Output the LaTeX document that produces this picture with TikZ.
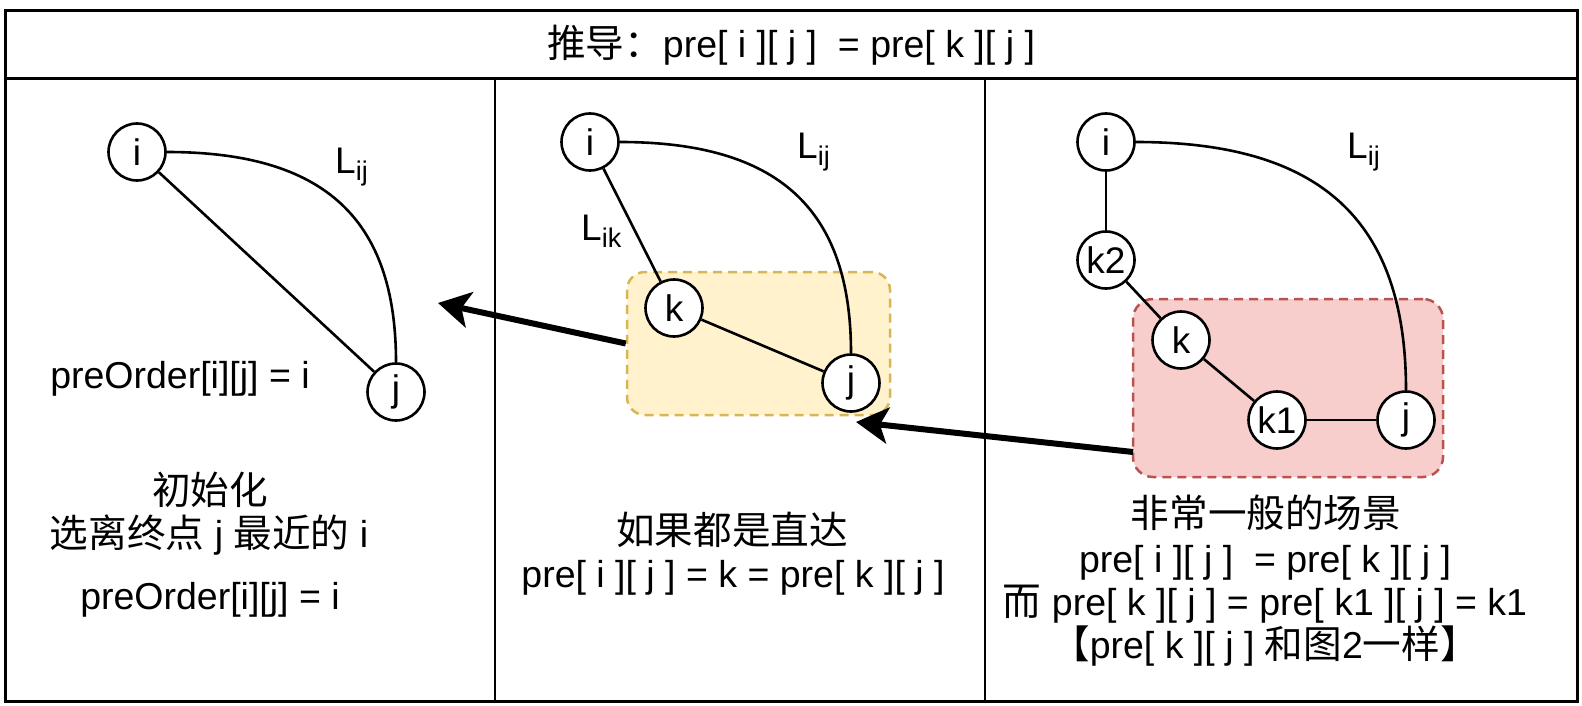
\documentclass[tikz,border=0pt]{standalone}
\usepackage{fontspec}
\setmainfont{Liberation Sans}
\newfontfamily\cjk[Scale=1.03]{Noto Sans CJK SC}
\usetikzlibrary{arrows.meta}
\definecolor{yfill}{HTML}{FFF2CC}
\definecolor{yline}{HTML}{D6B656}
\definecolor{rfill}{HTML}{F8CECC}
\definecolor{rline}{HTML}{B85450}
\newcommand\mysub[1]{\raisebox{-7pt}{\fontsize{27}{27}\selectfont #1}}
\begin{document}
\begin{tikzpicture}[x=1pt,y=-1pt,
  vert/.style={circle,draw,line width=2.6pt,fill=white,minimum size=57pt,inner sep=0pt,font=\fontsize{37}{37}\selectfont},
  link/.style={line width=2.6pt},
  bigarrow/.style={line width=6pt,-{Stealth[length=32pt,width=36pt,inset=8pt]}},
  outline/.style={line width=3pt},
  divider/.style={line width=2.5pt},
  lbl/.style={font=\fontsize{37.5}{44}\selectfont,inner sep=0pt,anchor=base},
  llbl/.style={font=\fontsize{37}{37}\selectfont,inner sep=0pt,anchor=base west},
  ybox/.style={draw=yline,fill=yfill,dash pattern=on 9pt off 6pt,line width=2.5pt,rounded corners=18pt,inner sep=0pt},
  rbox/.style={draw=rline,fill=rfill,dash pattern=on 9pt off 6pt,line width=2.5pt,rounded corners=20pt,inner sep=0pt},
]
\useasboundingbox (0,0) rectangle (1582,706);
% table frame
\draw[outline] (5,11) rectangle (1577,701);
\draw[outline] (5,79) -- (1577,79);
\draw[divider] (495,79) -- (495,701);
\draw[divider] (985,79) -- (985,701);
\node[lbl] (head) at (791,58) {{\cjk 推导：}pre[ i ][ j ]~ = pre[ k ][ j ]};

% highlight boxes
\node[ybox,minimum width=263pt,minimum height=143pt] (yb) at (758.5,343.5) {};
\node[rbox,minimum width=310pt,minimum height=178pt] (rb) at (1288,388) {};

% panel 1
\node[vert] (i1) at (137,152) {i};
\node[vert] (j1) at (396,392) {j};
\draw[link] (i1) -- (j1);
\draw[link] (i1.east) .. controls +(157,0) and +(0,-144) .. (j1.north);
\node[llbl] (lij1) at (335,173) {L\mysub{ij}};
\node[lbl] (po1) at (180,388) {preOrder[i][j] = i};
\node[lbl] (t1a) at (210,504) {\cjk 初始化};
\node[lbl] (t1b) at (209,547) {{\cjk 选离终点} j {\cjk 最近的} i};
\node[lbl] (t1c) at (210,609) {preOrder[i][j] = i};

% panel 2
\node[vert] (i2) at (590,142) {i};
\node[vert] (k2b) at (674,308) {k};
\node[vert] (j2) at (851,383) {j};
\draw[link] (i2) -- (k2b);
\draw[link] (k2b) -- (j2);
\draw[link] (i2.east) .. controls +(158,0) and +(0,-145) .. (j2.north);
\node[llbl] (lij2) at (797,158) {L\mysub{ij}};
\node[llbl] (lik2) at (581,240) {L\mysub{ik}};
\node[lbl] (t2a) at (732,544) {\cjk 如果都是直达};
\node[lbl] (t2b) at (733,587) {pre[ i ][ j ] = k = pre[ k ][ j ]};

% panel 3
\node[vert] (i3) at (1106,142) {i};
\node[vert] (k23) at (1106,260) {k2};
\node[vert] (k3) at (1181,340) {k};
\node[vert] (k13) at (1277,420) {k1};
\node[vert] (j3) at (1406,420) {j};
\draw[link] (i3) -- (k23);
\draw[link] (k23) -- (k3);
\draw[link] (k3) -- (k13);
\draw[link] (k13) -- (j3);
\draw[link] (i3.east) .. controls +(185,0) and +(0,-170) .. (j3.north);
\node[llbl] (lij3) at (1347,158) {L\mysub{ij}};
\node[lbl] (t3a) at (1266,527) {\cjk 非常一般的场景};
\node[lbl] (t3b) at (1265,572) {pre[ i ][ j ]~ = pre[ k ][ j ]};
\node[lbl] (t3c) at (1265,615) {{\cjk 而} pre[ k ][ j ] = pre[ k1 ][ j ] = k1};
\node[lbl] (t3d) at (1265,658) {{\cjk 【}pre[ k ][ j ] {\cjk 和图}2{\cjk 一样】}};

% arrows
\coordinate (tip1) at (438,303);
\coordinate (a2s) at (1133,452);
\coordinate (tip2) at (856,422);
\draw[bigarrow] (yb.west) -- (tip1);
\draw[bigarrow] (a2s) -- (tip2);
\end{tikzpicture}
\end{document}
